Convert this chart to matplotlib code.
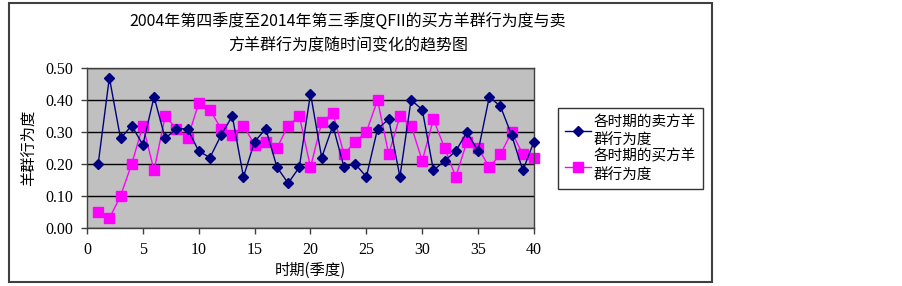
import matplotlib
matplotlib.use("Agg")
import matplotlib.pyplot as plt
from matplotlib.patches import Rectangle

periods = list(range(1, 41))
sell_herding = [0.20, 0.47, 0.28, 0.32, 0.26, 0.41, 0.28, 0.31, 0.31, 0.24,
                0.22, 0.29, 0.35, 0.16, 0.27, 0.31, 0.19, 0.14, 0.19, 0.42,
                0.22, 0.32, 0.19, 0.20, 0.16, 0.31, 0.34, 0.16, 0.40, 0.37,
                0.18, 0.21, 0.24, 0.30, 0.24, 0.41, 0.38, 0.29, 0.18, 0.27]
buy_herding = [0.05, 0.03, 0.10, 0.20, 0.32, 0.18, 0.35, 0.31, 0.28, 0.39,
               0.37, 0.31, 0.29, 0.32, 0.26, 0.27, 0.25, 0.32, 0.35, 0.19,
               0.33, 0.36, 0.23, 0.27, 0.30, 0.40, 0.23, 0.35, 0.32, 0.21,
               0.34, 0.25, 0.16, 0.27, 0.25, 0.19, 0.23, 0.30, 0.23, 0.22]
x_ticks = [0, 5, 10, 15, 20, 25, 30, 35, 40]
y_ticks = [0.0, 0.1, 0.2, 0.3, 0.4, 0.5]
y_ticklabels = ["0.00", "0.10", "0.20", "0.30", "0.40", "0.50"]

title = "2004年第四季度至2014年第三季度QFII的买方羊群行为度与卖\n方羊群行为度随时间变化的趋势图"
xlabel = "时期(季度)"
ylabel = "羊群行为度"
label_sell = "各时期的卖方羊\n群行为度"
label_buy = "各时期的买方羊\n群行为度"

CJK = ["Noto Sans CJK SC", "DejaVu Sans"]
SERIF = ["Liberation Serif", "DejaVu Serif"]

W, H = 903, 286
fig = plt.figure(figsize=(W / 100, H / 100), dpi=100)

# outer chart frame
fig.patches.append(Rectangle((9 / W, 1 - 282 / H), (712 - 9) / W, (282 - 3) / H,
                             transform=fig.transFigure, fill=False,
                             edgecolor="#404040", linewidth=1.5))

ax = fig.add_axes([87 / W, 1 - 228 / H, (534 - 87) / W, (228 - 68) / H])
ax.set_facecolor("#C0C0C0")
ax.set_xlim(0, 40)
ax.set_ylim(0, 0.5)
ax.set_xticks(x_ticks)
ax.set_xticklabels([str(v) for v in x_ticks], family=SERIF, fontsize=11.5)
ax.set_yticks(y_ticks)
ax.set_yticklabels(y_ticklabels, family=SERIF, fontsize=11.5)
ax.tick_params(axis="both", direction="out", length=4, width=1, color="#404040", pad=6)
ax.grid(axis="y", color="black", linewidth=1)
ax.set_axisbelow(True)
for s in ax.spines.values():
    s.set_color("#404040")
    s.set_linewidth(1)

ax.plot(periods, sell_herding, color="#000080", marker="D", markersize=5,
        linewidth=1, label=label_sell, clip_on=False, zorder=3)
ax.plot(periods, buy_herding, color="#FF00FF", marker="s", markersize=6.5,
        linewidth=1, label=label_buy, clip_on=False, zorder=2)

ax.set_xlabel(xlabel, family=CJK, fontsize=11, labelpad=3)
ax.set_ylabel(ylabel, family=CJK, fontsize=11, labelpad=6)

fig.text(348 / W, 1 - 34 / H, title, family=CJK, fontsize=11.5,
         ha="center", va="center", linespacing=1.45)

leg = ax.legend(loc="upper left", bbox_to_anchor=(558 / W, 1 - 108 / H),
                bbox_transform=fig.transFigure, prop={"family": CJK, "size": 10.5},
                frameon=True, fancybox=False, edgecolor="black", borderpad=0.45,
                handlelength=1.8, handletextpad=0.2, labelspacing=0.15,
                borderaxespad=0)
for t in leg.get_texts():
    t.set_linespacing(1.45)
leg.get_frame().set_linewidth(1)

fig.savefig("out.png", dpi=100, facecolor="white")
